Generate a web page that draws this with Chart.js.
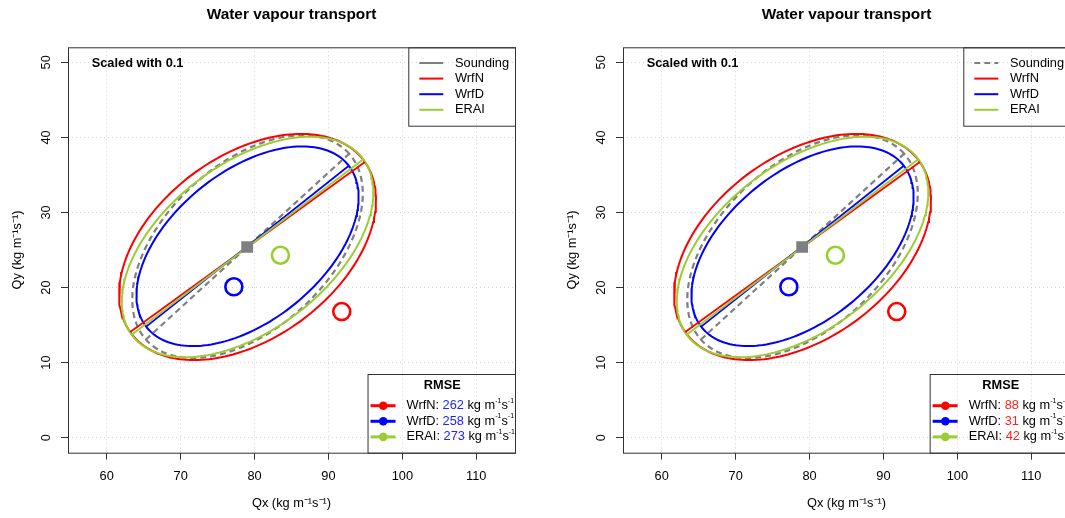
<!DOCTYPE html>
<html>
<head>
<meta charset="utf-8">
<title>Water vapour transport</title>
<script src="https://cdn.jsdelivr.net/npm/chart.js@4.4.1/dist/chart.umd.min.js"></script>
<style>
  html, body { margin: 0; padding: 0; background: #fff; overflow: hidden; }
  #wrap { position: relative; width: 1065px; height: 518px; overflow: hidden; }
  canvas { position: absolute; top: 0; }
</style>
</head>
<body>
<div id="wrap">
  <canvas id="leftChart" width="555" height="518" style="left:0"></canvas>
  <canvas id="rightChart" width="555" height="518" style="left:555px"></canvas>
</div>
<script>
// Series: Sounding first, then the three models
const seriesNames = ['Sounding', 'WrfN', 'WrfD', 'ERAI'];
const seriesColors = ['#7f7f7f', '#ff0000', '#0000ff', '#9acd32'];

// Variance ellipses (kg m-1 s-1, scaled with 0.1)
const centerX = [79.05, 79.05, 79.05, 79.05];
const centerY = [25.45, 25.4, 25.5, 25.4];
const semiMajor = [18.5, 19.5, 17.4, 19.55];
const semiMinor = [11.0, 12.2, 10.0, 11.1];
const angleDeg = [42, 35.5, 38, 36.7];

// Mean transport vectors
const meanX = [79.0, 91.8, 77.2, 83.5];
const meanY = [25.4, 16.8, 20.1, 24.3];

// RMSE per model, left and right panel
const rmseLeft = [262, 258, 273];
const rmseRight = [88, 31, 42];

const xTicks = [60, 70, 80, 90, 100, 110];
const yTicks = [0, 10, 20, 30, 40, 50];

const FONT = '"Liberation Sans", Arial, Helvetica, sans-serif';
const BASE = 12.8;

function ellipsePoints(i) {
  const t = angleDeg[i] * Math.PI / 180;
  const pts = [];
  for (let k = 0; k <= 200; k++) {
    const u = k / 200 * 2 * Math.PI;
    const ex = semiMajor[i] * Math.cos(u);
    const ey = semiMinor[i] * Math.sin(u);
    pts.push({
      x: centerX[i] + ex * Math.cos(t) - ey * Math.sin(t),
      y: centerY[i] + ex * Math.sin(t) + ey * Math.cos(t)
    });
  }
  return pts;
}

function majorAxis(i) {
  const t = angleDeg[i] * Math.PI / 180;
  const dx = semiMajor[i] * Math.cos(t), dy = semiMajor[i] * Math.sin(t);
  return [{ x: centerX[i] - dx, y: centerY[i] - dy }, { x: centerX[i] + dx, y: centerY[i] + dy }];
}

// draws "kg m^-1 s^-1", returns end x
function drawUnit(ctx, x, y, measureOnly) {
  const parts = [['kg m', 0], ['-1', 1], ['s', 0], ['-1', 1]];
  parts.forEach(([txt, sup]) => {
    ctx.font = (sup ? 7 : BASE) + 'px ' + FONT;
    if (!measureOnly) ctx.fillText(txt, x, sup ? y - 5 : y);
    x += ctx.measureText(txt).width;
  });
  return x;
}

function makePanelPlugin(rmse, valueColor, soundingDash) {
  return {
    id: 'rdecor',
    afterDraw(chart) {
      const ctx = chart.ctx;
      const a = chart.chartArea;
      ctx.save();
      ctx.strokeStyle = '#333';
      ctx.lineWidth = 1;
      ctx.strokeRect(a.left + 0.5, a.top + 0.5, a.right - a.left, a.bottom - a.top);

      ctx.fillStyle = '#000';
      ctx.textBaseline = 'middle';
      ctx.textAlign = 'center';
      ctx.font = 'bold 15.4px ' + FONT;
      ctx.fillText('Water vapour transport', (a.left + a.right) / 2, 15);

      ctx.textAlign = 'left';
      ctx.font = 'bold ' + BASE + 'px ' + FONT;
      ctx.fillText('Scaled with 0.1', a.left + 23.7, a.top + 16);

      // series legend, top right
      const lx = a.right - 106.7, ly = a.top;
      ctx.strokeRect(lx + 0.5, ly + 0.5, 106.7, 78.4);
      ctx.font = BASE + 'px ' + FONT;
      seriesNames.forEach((name, i) => {
        const y = ly + 15.7 + i * 15.6;
        ctx.beginPath();
        ctx.setLineDash(i === 0 ? soundingDash : []);
        ctx.strokeStyle = seriesColors[i];
        ctx.lineWidth = 2;
        ctx.moveTo(lx + 11, y);
        ctx.lineTo(lx + 35, y);
        ctx.stroke();
        ctx.setLineDash([]);
        ctx.fillStyle = '#000';
        ctx.fillText(name, lx + 46.7, y);
      });

      // RMSE legend, bottom right
      let textW = 0;
      rmse.forEach((v, i) => {
        const label = seriesNames[i + 1] + ': ' + v + ' ';
        ctx.font = BASE + 'px ' + FONT;
        const w = ctx.measureText(label).width;
        textW = Math.max(textW, drawUnit(ctx, w, 0, true));
      });
      const bw = 39 + textW, bh = 78.7;
      const bx = a.right - bw, by = a.bottom - bh;
      ctx.strokeStyle = '#333';
      ctx.lineWidth = 1;
      ctx.strokeRect(bx + 0.5, by + 0.5, bw, bh);
      ctx.textAlign = 'center';
      ctx.font = 'bold ' + BASE + 'px ' + FONT;
      ctx.fillStyle = '#000';
      ctx.fillText('RMSE', bx + bw / 2 + 1, by + 11);
      ctx.textAlign = 'left';
      rmse.forEach((v, i) => {
        const y = by + 31.7 + i * 15.6;
        const col = seriesColors[i + 1];
        ctx.strokeStyle = col;
        ctx.fillStyle = col;
        ctx.lineWidth = 3;
        ctx.beginPath();
        ctx.moveTo(bx + 3, y);
        ctx.lineTo(bx + 28, y);
        ctx.stroke();
        ctx.beginPath();
        ctx.arc(bx + 15.7, y, 4.3, 0, 2 * Math.PI);
        ctx.fill();
        let x = bx + 39;
        ctx.font = BASE + 'px ' + FONT;
        ctx.fillStyle = '#000';
        const head = seriesNames[i + 1] + ': ';
        ctx.fillText(head, x, y);
        x += ctx.measureText(head).width;
        ctx.fillStyle = valueColor;
        ctx.fillText(String(v), x, y);
        x += ctx.measureText(v + ' ').width;
        ctx.fillStyle = '#000';
        drawUnit(ctx, x, y, false);
      });
      ctx.restore();
    }
  };
}

function buildDatasets() {
  const ds = [];
  // mean markers on top
  ds.push({
    data: meanX.slice(1).map((x, i) => ({ x, y: meanY[i + 1] })),
    pointStyle: 'circle',
    pointRadius: 8.5,
    pointBorderWidth: 2.6,
    pointBorderColor: seriesColors.slice(1),
    pointBackgroundColor: 'rgba(0,0,0,0)',
    showLine: false
  });
  ds.push({
    data: [{ x: meanX[0], y: meanY[0] }],
    pointStyle: 'rect',
    pointRadius: 8.3,
    pointBorderWidth: 0,
    pointBackgroundColor: seriesColors[0],
    showLine: false
  });
  // major axes and ellipses
  [3, 2, 1, 0].forEach(i => {
    const dash = i === 0 ? [6, 4] : [];
    ds.push({
      data: majorAxis(i), showLine: true, borderColor: seriesColors[i],
      borderWidth: i === 0 ? 2.2 : 1.8, borderDash: dash, pointRadius: 0, tension: 0
    });
  });
  [3, 1, 2, 0].forEach(i => {
    const dash = i === 0 ? [6, 4] : [];
    ds.push({
      data: ellipsePoints(i), showLine: true, borderColor: seriesColors[i],
      borderWidth: i === 0 ? 2.2 : 2, borderDash: dash, pointRadius: 0, tension: 0
    });
  });
  return ds;
}

function axisOpts(ticks, extra) {
  return Object.assign({
    type: 'linear',
    afterBuildTicks: s => { s.ticks = ticks.map(v => ({ value: v })); },
    grid: {
      color: '#d3d3d3', lineWidth: 1, drawTicks: true, tickLength: 7,
      tickColor: '#333', tickWidth: 1, tickBorderDash: []
    },
    border: { display: false, dash: [1, 3] }
  }, extra);
}

function makeChart(id, rmse, valueColor, soundingDash) {
  return new Chart(document.getElementById(id).getContext('2d'), {
    type: 'scatter',
    data: { datasets: buildDatasets() },
    options: {
      responsive: false,
      devicePixelRatio: 1,
      animation: false,
      layout: { padding: { top: 47.3, right: 40, left: 0, bottom: 0 } },
      plugins: { legend: { display: false }, tooltip: { enabled: false } },
      scales: {
        x: axisOpts(xTicks, {
          min: 54.76, max: 115.24,
          afterFit: s => { s.height = 65.3; },
          ticks: { color: '#000', padding: 9.3, font: { family: FONT, size: BASE } },
          title: {
            display: true, text: 'Qx (kg m\u207B\u00B9s\u207B\u00B9)', color: '#000',
            font: { family: FONT, size: BASE }, padding: { top: 0, bottom: 7.3 }
          }
        }),
        y: axisOpts(yTicks, {
          min: -2, max: 52,
          afterFit: s => { s.width = 68; },
          ticks: {
            color: '#000', padding: 7.9, minRotation: 90, maxRotation: 90,
            crossAlign: 'center', font: { family: FONT, size: BASE }
          },
          title: {
            display: true, text: 'Qy (kg m\u207B\u00B9s\u207B\u00B9)', color: '#000',
            font: { family: FONT, size: BASE }, padding: { top: 9.8, bottom: 0 }
          }
        })
      }
    },
    plugins: [makePanelPlugin(rmse, valueColor, soundingDash)]
  });
}

makeChart('leftChart', rmseLeft, '#2222ff', []);
makeChart('rightChart', rmseRight, '#ff2020', [6, 4]);
</script>
</body>
</html>
